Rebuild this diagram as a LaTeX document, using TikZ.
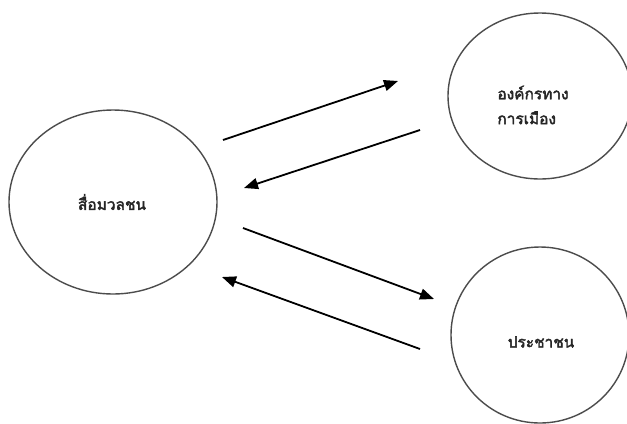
\documentclass[tikz,border=0pt]{standalone}
\usepackage{fontspec}
\newfontfamily\thaifont[Script=Thai,AutoFakeBold=2.5]{Loma}
\usetikzlibrary{shapes.geometric,arrows.meta}
\begin{document}
\begin{tikzpicture}[x=1bp,y=-1bp,
  bubble/.style={draw=black!70,line width=1.4bp,ellipse,inner sep=0pt},
  lbl/.style={font=\thaifont\bfseries\fontsize{15.5}{25}\selectfont,text=black!85},
  flow/.style={line width=1.8bp,-{Triangle[length=14bp,width=11bp]}}]
  \clip (0,0) rectangle (627,423);
  \fill[white] (0,0) rectangle (627,423);
  % the three actors
  \node[bubble,minimum width=208bp,minimum height=184bp] (media) at (113,202) {};
  \node[bubble,minimum width=184bp,minimum height=166bp] (org) at (540,96) {};
  \node[bubble,minimum width=178bp,minimum height=176bp] (people) at (540,335) {};
  \node[lbl,align=center] (tmedia) at (112,202) {สื่อมวลชน};
  \node[lbl,align=left] (torg) at (533,105) {องค์กรทาง\\การเมือง};
  \node[lbl,align=center] (tpeople) at (541,342) {ประชาชน};
  % arrow end points
  \coordinate (a1) at (223,140); \coordinate (b1) at (398,81);
  \coordinate (a2) at (420,130); \coordinate (b2) at (244,188);
  \coordinate (a3) at (243,228); \coordinate (b3) at (434,299);
  \coordinate (a4) at (420,349); \coordinate (b4) at (222,277);
  \draw[flow] (a1) -- (b1);
  \draw[flow] (a2) -- (b2);
  \draw[flow] (a3) -- (b3);
  \draw[flow] (a4) -- (b4);
\end{tikzpicture}
\end{document}
